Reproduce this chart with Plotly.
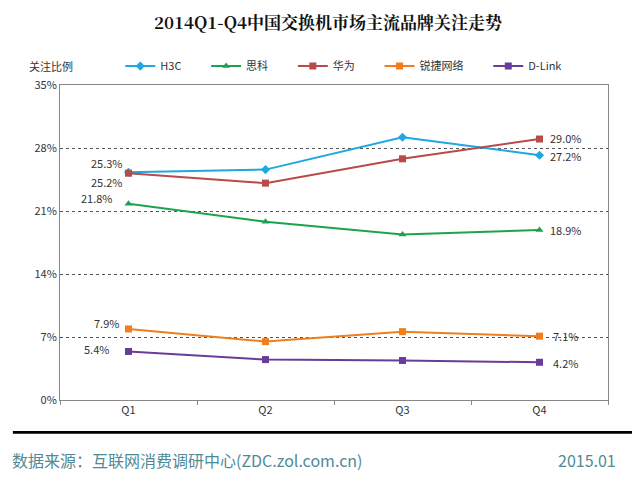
import plotly.graph_objects as go

quarters = ["Q1", "Q2", "Q3", "Q4"]
h3c = [25.3, 25.6, 29.2, 27.2]
cisco = [21.8, 19.8, 18.4, 18.9]
huawei = [25.2, 24.1, 26.8, 29.0]
ruijie = [7.9, 6.5, 7.6, 7.1]
dlink = [5.4, 4.5, 4.4, 4.2]
yticks = [0, 7, 14, 21, 28, 35]

series = [
    ("H3C", h3c, "#1EA7E0", "diamond", (-22, 9), (26, -1)),
    ("思科", cisco, "#1BA350", "triangle-up", (-32, 6), (26, 0)),
    ("华为", huawei, "#B84A4A", "square", (-22, -9), (26, 1)),
    ("锐捷网络", ruijie, "#F07D1E", "square", (-22, 6), (26, 0)),
    ("D-Link", dlink, "#6A3C9A", "square", (-32, 2), (26, -1)),
]
font = "Noto Sans CJK SC"
fig = go.Figure()
for name, vals, col, sym, s1, s4 in series:
    fig.add_trace(go.Scatter(x=quarters, y=vals, name=name + "\u00a0" * 8, mode="lines+markers",
                             line=dict(color=col, width=2),
                             marker=dict(symbol=sym, size=7, color=col)))
    for i, s in ((0, s1), (3, s4)):
        fig.add_annotation(x=quarters[i], y=vals[i], text=f"{vals[i]:.1f}%", showarrow=False,
                           xshift=s[0], yshift=s[1], font=dict(size=11, color="#333"))

fig.update_layout(
    width=640, height=480, paper_bgcolor="white", plot_bgcolor="white",
    margin=dict(l=52, r=40, t=77, b=40, autoexpand=False),
    title=dict(text="<b>2014Q1-Q4中国交换机市场主流品牌关注走势</b>", x=0.5, y=0.982,
               xanchor="center", font=dict(size=17, family="Noto Serif CJK SC, " + font, color="#111")),
    legend=dict(orientation="h", x=0.11, y=1.052, xanchor="left", yanchor="middle",
                font=dict(size=11, color="#333"), traceorder="normal", itemwidth=30),
    font=dict(family=font),
    xaxis=dict(range=[-0.5, 3.5], showline=True, linecolor="#888", mirror=True, automargin=False,
               ticks="outside", tickcolor="#888", ticklen=4, tickson="boundaries",
               showgrid=False, tickfont=dict(size=11, color="#333")),
    yaxis=dict(range=[0, 35], domain=[0.132, 1], tickvals=yticks, ticktext=[f"{v}%" for v in yticks],
               automargin=False, showline=True, linecolor="#888", mirror=True, gridcolor="#555",
               griddash="dot", gridwidth=1, tickfont=dict(size=11, color="#333"), zeroline=False),
)
fig.add_shape(type="rect", xref="paper", yref="paper", x0=-0.086, x1=1.07, y0=0.039, y1=0.047,
              fillcolor="black", line=dict(width=0), layer="above")
fig.add_annotation(text="关注比例", x=-0.06, y=1.08, xref="paper", yref="paper", showarrow=False,
                   xanchor="left", font=dict(size=11, color="#333"))
fig.add_annotation(text="数据来源：互联网消费调研中心(ZDC.zol.com.cn)", x=-0.091, y=-0.072, xref="paper",
                   yref="paper", xanchor="left", showarrow=False, font=dict(size=16, color="#4F8A96"))
fig.add_annotation(text="2015.01", x=1.018, y=-0.072, xref="paper", yref="paper", xanchor="right",
                   showarrow=False, font=dict(size=16, color="#4F8A96"))
fig.write_html("out.html")
